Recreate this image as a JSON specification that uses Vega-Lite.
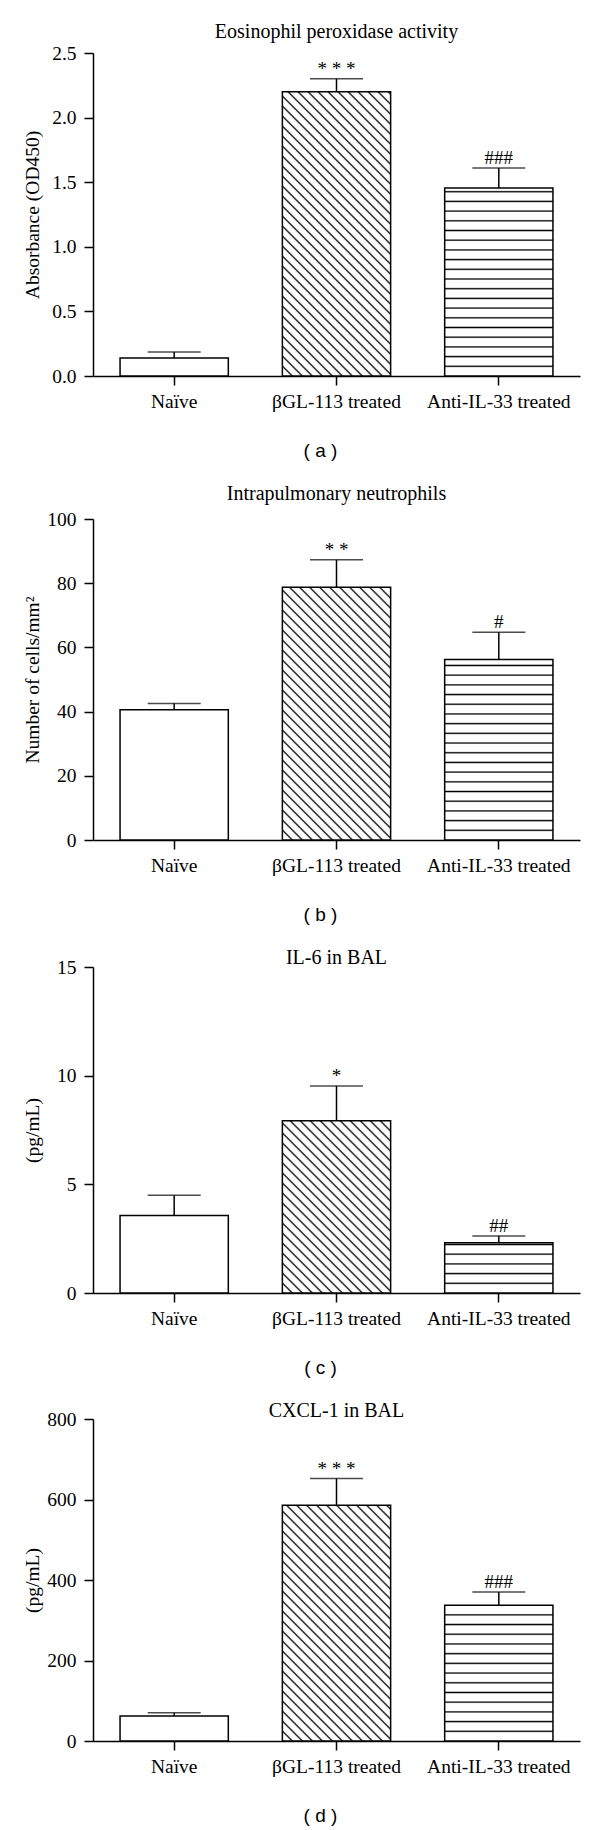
{
"$schema": "https://vega.github.io/schema/vega-lite/v6.json",
"background": "white",
"padding": {"left": 22, "top": 22, "right": 5, "bottom": 0},
"spacing": 23,
"data": {"values": [
{"panel": "a", "group": "Naïve", "value": 0.14, "upper": 0.186, "sig": ""},
{"panel": "a", "group": "βGL-113 treated", "value": 2.20, "upper": 2.30, "sig": "* * *"},
{"panel": "a", "group": "Anti-IL-33 treated", "value": 1.455, "upper": 1.61, "sig": "###"},
{"panel": "b", "group": "Naïve", "value": 40.6, "upper": 42.5, "sig": ""},
{"panel": "b", "group": "βGL-113 treated", "value": 78.7, "upper": 87.3, "sig": "* *"},
{"panel": "b", "group": "Anti-IL-33 treated", "value": 56.2, "upper": 64.7, "sig": "#"},
{"panel": "c", "group": "Naïve", "value": 3.57, "upper": 4.5, "sig": ""},
{"panel": "c", "group": "βGL-113 treated", "value": 7.93, "upper": 9.53, "sig": "*"},
{"panel": "c", "group": "Anti-IL-33 treated", "value": 2.31, "upper": 2.62, "sig": "##"},
{"panel": "d", "group": "Naïve", "value": 62, "upper": 70, "sig": ""},
{"panel": "d", "group": "βGL-113 treated", "value": 586, "upper": 652, "sig": "* * *"},
{"panel": "d", "group": "Anti-IL-33 treated", "value": 337, "upper": 370, "sig": "###"}
]},
"vconcat": [
{
"title": {"text": "Eosinophil peroxidase activity", "offset": 1},
"width": 487, "height": 323,
"transform": [{"filter": "datum.panel === 'a'"}],
"encoding": {"x": {"field": "group", "type": "nominal", "sort": ["Naïve", "βGL-113 treated", "Anti-IL-33 treated"], "scale": {"paddingInner": 0.333, "paddingOuter": 0.1667}, "axis": {"title": "( a )"}}},
"layer": [
{"mark": {"type": "bar", "stroke": "black", "strokeWidth": 1.5},
 "encoding": {
  "y": {"field": "value", "type": "quantitative", "title": "Absorbance (OD450)", "scale": {"domain": [0, 2.5], "nice": false}, "axis": {"values": [0, 0.5, 1, 1.5, 2, 2.5], "format": ".1f"}},
  "fill": {"condition": [
   {"test": "datum.group === 'βGL-113 treated'", "value": {"gradient": "linear", "x1": 0, "y1": 1, "x2": 0.468, "y2": -0.229, "stops": [{"offset":0.0205,"color":"#fff"},{"offset":0.025,"color":"#000"},{"offset":0.0295,"color":"#fff"},{"offset":0.0455,"color":"#fff"},{"offset":0.05,"color":"#000"},{"offset":0.0545,"color":"#fff"},{"offset":0.0705,"color":"#fff"},{"offset":0.075,"color":"#000"},{"offset":0.0795,"color":"#fff"},{"offset":0.0955,"color":"#fff"},{"offset":0.1,"color":"#000"},{"offset":0.1045,"color":"#fff"},{"offset":0.1205,"color":"#fff"},{"offset":0.125,"color":"#000"},{"offset":0.1295,"color":"#fff"},{"offset":0.1455,"color":"#fff"},{"offset":0.15,"color":"#000"},{"offset":0.1545,"color":"#fff"},{"offset":0.1705,"color":"#fff"},{"offset":0.175,"color":"#000"},{"offset":0.1795,"color":"#fff"},{"offset":0.1955,"color":"#fff"},{"offset":0.2,"color":"#000"},{"offset":0.2045,"color":"#fff"},{"offset":0.2205,"color":"#fff"},{"offset":0.225,"color":"#000"},{"offset":0.2295,"color":"#fff"},{"offset":0.2455,"color":"#fff"},{"offset":0.25,"color":"#000"},{"offset":0.2545,"color":"#fff"},{"offset":0.2705,"color":"#fff"},{"offset":0.275,"color":"#000"},{"offset":0.2795,"color":"#fff"},{"offset":0.2955,"color":"#fff"},{"offset":0.3,"color":"#000"},{"offset":0.3045,"color":"#fff"},{"offset":0.3205,"color":"#fff"},{"offset":0.325,"color":"#000"},{"offset":0.3295,"color":"#fff"},{"offset":0.3455,"color":"#fff"},{"offset":0.35,"color":"#000"},{"offset":0.3545,"color":"#fff"},{"offset":0.3705,"color":"#fff"},{"offset":0.375,"color":"#000"},{"offset":0.3795,"color":"#fff"},{"offset":0.3955,"color":"#fff"},{"offset":0.4,"color":"#000"},{"offset":0.4045,"color":"#fff"},{"offset":0.4205,"color":"#fff"},{"offset":0.425,"color":"#000"},{"offset":0.4295,"color":"#fff"},{"offset":0.4455,"color":"#fff"},{"offset":0.45,"color":"#000"},{"offset":0.4545,"color":"#fff"},{"offset":0.4705,"color":"#fff"},{"offset":0.475,"color":"#000"},{"offset":0.4795,"color":"#fff"},{"offset":0.4955,"color":"#fff"},{"offset":0.5,"color":"#000"},{"offset":0.5045,"color":"#fff"},{"offset":0.5205,"color":"#fff"},{"offset":0.525,"color":"#000"},{"offset":0.5295,"color":"#fff"},{"offset":0.5455,"color":"#fff"},{"offset":0.55,"color":"#000"},{"offset":0.5545,"color":"#fff"},{"offset":0.5705,"color":"#fff"},{"offset":0.575,"color":"#000"},{"offset":0.5795,"color":"#fff"},{"offset":0.5955,"color":"#fff"},{"offset":0.6,"color":"#000"},{"offset":0.6045,"color":"#fff"},{"offset":0.6205,"color":"#fff"},{"offset":0.625,"color":"#000"},{"offset":0.6295,"color":"#fff"},{"offset":0.6455,"color":"#fff"},{"offset":0.65,"color":"#000"},{"offset":0.6545,"color":"#fff"},{"offset":0.6705,"color":"#fff"},{"offset":0.675,"color":"#000"},{"offset":0.6795,"color":"#fff"},{"offset":0.6955,"color":"#fff"},{"offset":0.7,"color":"#000"},{"offset":0.7045,"color":"#fff"},{"offset":0.7205,"color":"#fff"},{"offset":0.725,"color":"#000"},{"offset":0.7295,"color":"#fff"},{"offset":0.7455,"color":"#fff"},{"offset":0.75,"color":"#000"},{"offset":0.7545,"color":"#fff"},{"offset":0.7705,"color":"#fff"},{"offset":0.775,"color":"#000"},{"offset":0.7795,"color":"#fff"},{"offset":0.7955,"color":"#fff"},{"offset":0.8,"color":"#000"},{"offset":0.8045,"color":"#fff"},{"offset":0.8205,"color":"#fff"},{"offset":0.825,"color":"#000"},{"offset":0.8295,"color":"#fff"},{"offset":0.8455,"color":"#fff"},{"offset":0.85,"color":"#000"},{"offset":0.8545,"color":"#fff"},{"offset":0.8705,"color":"#fff"},{"offset":0.875,"color":"#000"},{"offset":0.8795,"color":"#fff"},{"offset":0.8955,"color":"#fff"},{"offset":0.9,"color":"#000"},{"offset":0.9045,"color":"#fff"},{"offset":0.9205,"color":"#fff"},{"offset":0.925,"color":"#000"},{"offset":0.9295,"color":"#fff"},{"offset":0.9455,"color":"#fff"},{"offset":0.95,"color":"#000"},{"offset":0.9545,"color":"#fff"},{"offset":0.9705,"color":"#fff"},{"offset":0.975,"color":"#000"},{"offset":0.9795,"color":"#fff"}]}},
   {"test": "datum.group === 'Anti-IL-33 treated'", "value": {"gradient": "linear", "x1": 0, "y1": 1, "x2": 0, "y2": -0.032, "stops": [{"offset":0.043,"color":"#fff"},{"offset":0.05,"color":"#000"},{"offset":0.057,"color":"#fff"},{"offset":0.093,"color":"#fff"},{"offset":0.1,"color":"#000"},{"offset":0.107,"color":"#fff"},{"offset":0.143,"color":"#fff"},{"offset":0.15,"color":"#000"},{"offset":0.157,"color":"#fff"},{"offset":0.193,"color":"#fff"},{"offset":0.2,"color":"#000"},{"offset":0.207,"color":"#fff"},{"offset":0.243,"color":"#fff"},{"offset":0.25,"color":"#000"},{"offset":0.257,"color":"#fff"},{"offset":0.293,"color":"#fff"},{"offset":0.3,"color":"#000"},{"offset":0.307,"color":"#fff"},{"offset":0.343,"color":"#fff"},{"offset":0.35,"color":"#000"},{"offset":0.357,"color":"#fff"},{"offset":0.393,"color":"#fff"},{"offset":0.4,"color":"#000"},{"offset":0.407,"color":"#fff"},{"offset":0.443,"color":"#fff"},{"offset":0.45,"color":"#000"},{"offset":0.457,"color":"#fff"},{"offset":0.493,"color":"#fff"},{"offset":0.5,"color":"#000"},{"offset":0.507,"color":"#fff"},{"offset":0.543,"color":"#fff"},{"offset":0.55,"color":"#000"},{"offset":0.557,"color":"#fff"},{"offset":0.593,"color":"#fff"},{"offset":0.6,"color":"#000"},{"offset":0.607,"color":"#fff"},{"offset":0.643,"color":"#fff"},{"offset":0.65,"color":"#000"},{"offset":0.657,"color":"#fff"},{"offset":0.693,"color":"#fff"},{"offset":0.7,"color":"#000"},{"offset":0.707,"color":"#fff"},{"offset":0.743,"color":"#fff"},{"offset":0.75,"color":"#000"},{"offset":0.757,"color":"#fff"},{"offset":0.793,"color":"#fff"},{"offset":0.8,"color":"#000"},{"offset":0.807,"color":"#fff"},{"offset":0.843,"color":"#fff"},{"offset":0.85,"color":"#000"},{"offset":0.857,"color":"#fff"},{"offset":0.893,"color":"#fff"},{"offset":0.9,"color":"#000"},{"offset":0.907,"color":"#fff"},{"offset":0.943,"color":"#fff"},{"offset":0.95,"color":"#000"},{"offset":0.957,"color":"#fff"}]}}
  ], "value": "white"}
 }},
{"mark": {"type": "rule", "strokeWidth": 1.5, "color": "black"}, "encoding": {"y": {"field": "value", "type": "quantitative", "title": "Absorbance (OD450)"}, "y2": {"field": "upper"}}},
{"mark": {"type": "tick", "size": 53, "thickness": 1.5, "color": "black"}, "encoding": {"y": {"field": "upper", "type": "quantitative", "title": "Absorbance (OD450)"}}},
{"mark": {"type": "text", "dy": -4, "baseline": "alphabetic", "fontSize": 19, "font": "Liberation Serif", "color": "black"}, "encoding": {"y": {"field": "upper", "type": "quantitative", "title": "Absorbance (OD450)"}, "text": {"field": "sig"}}}
]
},
{
"title": {"text": "Intrapulmonary neutrophils", "offset": 5},
"width": 487, "height": 321,
"transform": [{"filter": "datum.panel === 'b'"}],
"encoding": {"x": {"field": "group", "type": "nominal", "sort": ["Naïve", "βGL-113 treated", "Anti-IL-33 treated"], "scale": {"paddingInner": 0.333, "paddingOuter": 0.1667}, "axis": {"title": "( b )"}}},
"layer": [
{"mark": {"type": "bar", "stroke": "black", "strokeWidth": 1.5},
 "encoding": {
  "y": {"field": "value", "type": "quantitative", "title": "Number of cells/mm²", "scale": {"domain": [0, 100], "nice": false}, "axis": {"values": [0, 20, 40, 60, 80, 100]}},
  "fill": {"condition": [
   {"test": "datum.group === 'βGL-113 treated'", "value": {"gradient": "linear", "x1": 0, "y1": 1, "x2": 0.573, "y2": -0.338, "stops": [{"offset":0.0205,"color":"#fff"},{"offset":0.025,"color":"#000"},{"offset":0.0295,"color":"#fff"},{"offset":0.0455,"color":"#fff"},{"offset":0.05,"color":"#000"},{"offset":0.0545,"color":"#fff"},{"offset":0.0705,"color":"#fff"},{"offset":0.075,"color":"#000"},{"offset":0.0795,"color":"#fff"},{"offset":0.0955,"color":"#fff"},{"offset":0.1,"color":"#000"},{"offset":0.1045,"color":"#fff"},{"offset":0.1205,"color":"#fff"},{"offset":0.125,"color":"#000"},{"offset":0.1295,"color":"#fff"},{"offset":0.1455,"color":"#fff"},{"offset":0.15,"color":"#000"},{"offset":0.1545,"color":"#fff"},{"offset":0.1705,"color":"#fff"},{"offset":0.175,"color":"#000"},{"offset":0.1795,"color":"#fff"},{"offset":0.1955,"color":"#fff"},{"offset":0.2,"color":"#000"},{"offset":0.2045,"color":"#fff"},{"offset":0.2205,"color":"#fff"},{"offset":0.225,"color":"#000"},{"offset":0.2295,"color":"#fff"},{"offset":0.2455,"color":"#fff"},{"offset":0.25,"color":"#000"},{"offset":0.2545,"color":"#fff"},{"offset":0.2705,"color":"#fff"},{"offset":0.275,"color":"#000"},{"offset":0.2795,"color":"#fff"},{"offset":0.2955,"color":"#fff"},{"offset":0.3,"color":"#000"},{"offset":0.3045,"color":"#fff"},{"offset":0.3205,"color":"#fff"},{"offset":0.325,"color":"#000"},{"offset":0.3295,"color":"#fff"},{"offset":0.3455,"color":"#fff"},{"offset":0.35,"color":"#000"},{"offset":0.3545,"color":"#fff"},{"offset":0.3705,"color":"#fff"},{"offset":0.375,"color":"#000"},{"offset":0.3795,"color":"#fff"},{"offset":0.3955,"color":"#fff"},{"offset":0.4,"color":"#000"},{"offset":0.4045,"color":"#fff"},{"offset":0.4205,"color":"#fff"},{"offset":0.425,"color":"#000"},{"offset":0.4295,"color":"#fff"},{"offset":0.4455,"color":"#fff"},{"offset":0.45,"color":"#000"},{"offset":0.4545,"color":"#fff"},{"offset":0.4705,"color":"#fff"},{"offset":0.475,"color":"#000"},{"offset":0.4795,"color":"#fff"},{"offset":0.4955,"color":"#fff"},{"offset":0.5,"color":"#000"},{"offset":0.5045,"color":"#fff"},{"offset":0.5205,"color":"#fff"},{"offset":0.525,"color":"#000"},{"offset":0.5295,"color":"#fff"},{"offset":0.5455,"color":"#fff"},{"offset":0.55,"color":"#000"},{"offset":0.5545,"color":"#fff"},{"offset":0.5705,"color":"#fff"},{"offset":0.575,"color":"#000"},{"offset":0.5795,"color":"#fff"},{"offset":0.5955,"color":"#fff"},{"offset":0.6,"color":"#000"},{"offset":0.6045,"color":"#fff"},{"offset":0.6205,"color":"#fff"},{"offset":0.625,"color":"#000"},{"offset":0.6295,"color":"#fff"},{"offset":0.6455,"color":"#fff"},{"offset":0.65,"color":"#000"},{"offset":0.6545,"color":"#fff"},{"offset":0.6705,"color":"#fff"},{"offset":0.675,"color":"#000"},{"offset":0.6795,"color":"#fff"},{"offset":0.6955,"color":"#fff"},{"offset":0.7,"color":"#000"},{"offset":0.7045,"color":"#fff"},{"offset":0.7205,"color":"#fff"},{"offset":0.725,"color":"#000"},{"offset":0.7295,"color":"#fff"},{"offset":0.7455,"color":"#fff"},{"offset":0.75,"color":"#000"},{"offset":0.7545,"color":"#fff"},{"offset":0.7705,"color":"#fff"},{"offset":0.775,"color":"#000"},{"offset":0.7795,"color":"#fff"},{"offset":0.7955,"color":"#fff"},{"offset":0.8,"color":"#000"},{"offset":0.8045,"color":"#fff"},{"offset":0.8205,"color":"#fff"},{"offset":0.825,"color":"#000"},{"offset":0.8295,"color":"#fff"},{"offset":0.8455,"color":"#fff"},{"offset":0.85,"color":"#000"},{"offset":0.8545,"color":"#fff"},{"offset":0.8705,"color":"#fff"},{"offset":0.875,"color":"#000"},{"offset":0.8795,"color":"#fff"},{"offset":0.8955,"color":"#fff"},{"offset":0.9,"color":"#000"},{"offset":0.9045,"color":"#fff"},{"offset":0.9205,"color":"#fff"},{"offset":0.925,"color":"#000"},{"offset":0.9295,"color":"#fff"},{"offset":0.9455,"color":"#fff"},{"offset":0.95,"color":"#000"},{"offset":0.9545,"color":"#fff"},{"offset":0.9705,"color":"#fff"},{"offset":0.975,"color":"#000"},{"offset":0.9795,"color":"#fff"}]}},
   {"test": "datum.group === 'Anti-IL-33 treated'", "value": {"gradient": "linear", "x1": 0, "y1": 1, "x2": 0, "y2": -0.075, "stops": [{"offset":0.043,"color":"#fff"},{"offset":0.05,"color":"#000"},{"offset":0.057,"color":"#fff"},{"offset":0.093,"color":"#fff"},{"offset":0.1,"color":"#000"},{"offset":0.107,"color":"#fff"},{"offset":0.143,"color":"#fff"},{"offset":0.15,"color":"#000"},{"offset":0.157,"color":"#fff"},{"offset":0.193,"color":"#fff"},{"offset":0.2,"color":"#000"},{"offset":0.207,"color":"#fff"},{"offset":0.243,"color":"#fff"},{"offset":0.25,"color":"#000"},{"offset":0.257,"color":"#fff"},{"offset":0.293,"color":"#fff"},{"offset":0.3,"color":"#000"},{"offset":0.307,"color":"#fff"},{"offset":0.343,"color":"#fff"},{"offset":0.35,"color":"#000"},{"offset":0.357,"color":"#fff"},{"offset":0.393,"color":"#fff"},{"offset":0.4,"color":"#000"},{"offset":0.407,"color":"#fff"},{"offset":0.443,"color":"#fff"},{"offset":0.45,"color":"#000"},{"offset":0.457,"color":"#fff"},{"offset":0.493,"color":"#fff"},{"offset":0.5,"color":"#000"},{"offset":0.507,"color":"#fff"},{"offset":0.543,"color":"#fff"},{"offset":0.55,"color":"#000"},{"offset":0.557,"color":"#fff"},{"offset":0.593,"color":"#fff"},{"offset":0.6,"color":"#000"},{"offset":0.607,"color":"#fff"},{"offset":0.643,"color":"#fff"},{"offset":0.65,"color":"#000"},{"offset":0.657,"color":"#fff"},{"offset":0.693,"color":"#fff"},{"offset":0.7,"color":"#000"},{"offset":0.707,"color":"#fff"},{"offset":0.743,"color":"#fff"},{"offset":0.75,"color":"#000"},{"offset":0.757,"color":"#fff"},{"offset":0.793,"color":"#fff"},{"offset":0.8,"color":"#000"},{"offset":0.807,"color":"#fff"},{"offset":0.843,"color":"#fff"},{"offset":0.85,"color":"#000"},{"offset":0.857,"color":"#fff"},{"offset":0.893,"color":"#fff"},{"offset":0.9,"color":"#000"},{"offset":0.907,"color":"#fff"},{"offset":0.943,"color":"#fff"},{"offset":0.95,"color":"#000"},{"offset":0.957,"color":"#fff"}]}}
  ], "value": "white"}
 }},
{"mark": {"type": "rule", "strokeWidth": 1.5, "color": "black"}, "encoding": {"y": {"field": "value", "type": "quantitative", "title": "Number of cells/mm²"}, "y2": {"field": "upper"}}},
{"mark": {"type": "tick", "size": 53, "thickness": 1.5, "color": "black"}, "encoding": {"y": {"field": "upper", "type": "quantitative", "title": "Number of cells/mm²"}}},
{"mark": {"type": "text", "dy": -4, "baseline": "alphabetic", "fontSize": 19, "font": "Liberation Serif", "color": "black"}, "encoding": {"y": {"field": "upper", "type": "quantitative", "title": "Number of cells/mm²"}, "text": {"field": "sig"}}}
]
},
{
"title": {"text": "IL-6 in BAL", "offset": -11},
"width": 487, "height": 326,
"transform": [{"filter": "datum.panel === 'c'"}],
"encoding": {"x": {"field": "group", "type": "nominal", "sort": ["Naïve", "βGL-113 treated", "Anti-IL-33 treated"], "scale": {"paddingInner": 0.333, "paddingOuter": 0.1667}, "axis": {"title": "( c )"}}},
"layer": [
{"mark": {"type": "bar", "stroke": "black", "strokeWidth": 1.5},
 "encoding": {
  "y": {"field": "value", "type": "quantitative", "title": "(pg/mL)", "scale": {"domain": [0, 15], "nice": false}, "axis": {"values": [0, 5, 10, 15]}},
  "fill": {"condition": [
   {"test": "datum.group === 'βGL-113 treated'", "value": {"gradient": "linear", "x1": 0, "y1": 1, "x2": 1.046, "y2": -0.665, "stops": [{"offset":0.0205,"color":"#fff"},{"offset":0.025,"color":"#000"},{"offset":0.0295,"color":"#fff"},{"offset":0.0455,"color":"#fff"},{"offset":0.05,"color":"#000"},{"offset":0.0545,"color":"#fff"},{"offset":0.0705,"color":"#fff"},{"offset":0.075,"color":"#000"},{"offset":0.0795,"color":"#fff"},{"offset":0.0955,"color":"#fff"},{"offset":0.1,"color":"#000"},{"offset":0.1045,"color":"#fff"},{"offset":0.1205,"color":"#fff"},{"offset":0.125,"color":"#000"},{"offset":0.1295,"color":"#fff"},{"offset":0.1455,"color":"#fff"},{"offset":0.15,"color":"#000"},{"offset":0.1545,"color":"#fff"},{"offset":0.1705,"color":"#fff"},{"offset":0.175,"color":"#000"},{"offset":0.1795,"color":"#fff"},{"offset":0.1955,"color":"#fff"},{"offset":0.2,"color":"#000"},{"offset":0.2045,"color":"#fff"},{"offset":0.2205,"color":"#fff"},{"offset":0.225,"color":"#000"},{"offset":0.2295,"color":"#fff"},{"offset":0.2455,"color":"#fff"},{"offset":0.25,"color":"#000"},{"offset":0.2545,"color":"#fff"},{"offset":0.2705,"color":"#fff"},{"offset":0.275,"color":"#000"},{"offset":0.2795,"color":"#fff"},{"offset":0.2955,"color":"#fff"},{"offset":0.3,"color":"#000"},{"offset":0.3045,"color":"#fff"},{"offset":0.3205,"color":"#fff"},{"offset":0.325,"color":"#000"},{"offset":0.3295,"color":"#fff"},{"offset":0.3455,"color":"#fff"},{"offset":0.35,"color":"#000"},{"offset":0.3545,"color":"#fff"},{"offset":0.3705,"color":"#fff"},{"offset":0.375,"color":"#000"},{"offset":0.3795,"color":"#fff"},{"offset":0.3955,"color":"#fff"},{"offset":0.4,"color":"#000"},{"offset":0.4045,"color":"#fff"},{"offset":0.4205,"color":"#fff"},{"offset":0.425,"color":"#000"},{"offset":0.4295,"color":"#fff"},{"offset":0.4455,"color":"#fff"},{"offset":0.45,"color":"#000"},{"offset":0.4545,"color":"#fff"},{"offset":0.4705,"color":"#fff"},{"offset":0.475,"color":"#000"},{"offset":0.4795,"color":"#fff"},{"offset":0.4955,"color":"#fff"},{"offset":0.5,"color":"#000"},{"offset":0.5045,"color":"#fff"},{"offset":0.5205,"color":"#fff"},{"offset":0.525,"color":"#000"},{"offset":0.5295,"color":"#fff"},{"offset":0.5455,"color":"#fff"},{"offset":0.55,"color":"#000"},{"offset":0.5545,"color":"#fff"},{"offset":0.5705,"color":"#fff"},{"offset":0.575,"color":"#000"},{"offset":0.5795,"color":"#fff"},{"offset":0.5955,"color":"#fff"},{"offset":0.6,"color":"#000"},{"offset":0.6045,"color":"#fff"},{"offset":0.6205,"color":"#fff"},{"offset":0.625,"color":"#000"},{"offset":0.6295,"color":"#fff"},{"offset":0.6455,"color":"#fff"},{"offset":0.65,"color":"#000"},{"offset":0.6545,"color":"#fff"},{"offset":0.6705,"color":"#fff"},{"offset":0.675,"color":"#000"},{"offset":0.6795,"color":"#fff"},{"offset":0.6955,"color":"#fff"},{"offset":0.7,"color":"#000"},{"offset":0.7045,"color":"#fff"},{"offset":0.7205,"color":"#fff"},{"offset":0.725,"color":"#000"},{"offset":0.7295,"color":"#fff"},{"offset":0.7455,"color":"#fff"},{"offset":0.75,"color":"#000"},{"offset":0.7545,"color":"#fff"},{"offset":0.7705,"color":"#fff"},{"offset":0.775,"color":"#000"},{"offset":0.7795,"color":"#fff"},{"offset":0.7955,"color":"#fff"},{"offset":0.8,"color":"#000"},{"offset":0.8045,"color":"#fff"},{"offset":0.8205,"color":"#fff"},{"offset":0.825,"color":"#000"},{"offset":0.8295,"color":"#fff"},{"offset":0.8455,"color":"#fff"},{"offset":0.85,"color":"#000"},{"offset":0.8545,"color":"#fff"},{"offset":0.8705,"color":"#fff"},{"offset":0.875,"color":"#000"},{"offset":0.8795,"color":"#fff"},{"offset":0.8955,"color":"#fff"},{"offset":0.9,"color":"#000"},{"offset":0.9045,"color":"#fff"},{"offset":0.9205,"color":"#fff"},{"offset":0.925,"color":"#000"},{"offset":0.9295,"color":"#fff"},{"offset":0.9455,"color":"#fff"},{"offset":0.95,"color":"#000"},{"offset":0.9545,"color":"#fff"},{"offset":0.9705,"color":"#fff"},{"offset":0.975,"color":"#000"},{"offset":0.9795,"color":"#fff"}]}},
   {"test": "datum.group === 'Anti-IL-33 treated'", "value": {"gradient": "linear", "x1": 0, "y1": 1, "x2": 0, "y2": -2.865, "stops": [{"offset":0.043,"color":"#fff"},{"offset":0.05,"color":"#000"},{"offset":0.057,"color":"#fff"},{"offset":0.093,"color":"#fff"},{"offset":0.1,"color":"#000"},{"offset":0.107,"color":"#fff"},{"offset":0.143,"color":"#fff"},{"offset":0.15,"color":"#000"},{"offset":0.157,"color":"#fff"},{"offset":0.193,"color":"#fff"},{"offset":0.2,"color":"#000"},{"offset":0.207,"color":"#fff"},{"offset":0.243,"color":"#fff"},{"offset":0.25,"color":"#000"},{"offset":0.257,"color":"#fff"},{"offset":0.293,"color":"#fff"},{"offset":0.3,"color":"#000"},{"offset":0.307,"color":"#fff"}]}}
  ], "value": "white"}
 }},
{"mark": {"type": "rule", "strokeWidth": 1.5, "color": "black"}, "encoding": {"y": {"field": "value", "type": "quantitative", "title": "(pg/mL)"}, "y2": {"field": "upper"}}},
{"mark": {"type": "tick", "size": 53, "thickness": 1.5, "color": "black"}, "encoding": {"y": {"field": "upper", "type": "quantitative", "title": "(pg/mL)"}}},
{"mark": {"type": "text", "dy": -4, "baseline": "alphabetic", "fontSize": 19, "font": "Liberation Serif", "color": "black"}, "encoding": {"y": {"field": "upper", "type": "quantitative", "title": "(pg/mL)"}, "text": {"field": "sig"}}}
]
},
{
"title": {"text": "CXCL-1 in BAL", "offset": -12},
"width": 487, "height": 322,
"transform": [{"filter": "datum.panel === 'd'"}],
"encoding": {"x": {"field": "group", "type": "nominal", "sort": ["Naïve", "βGL-113 treated", "Anti-IL-33 treated"], "scale": {"paddingInner": 0.333, "paddingOuter": 0.1667}, "axis": {"title": "( d )"}}},
"layer": [
{"mark": {"type": "bar", "stroke": "black", "strokeWidth": 1.5},
 "encoding": {
  "y": {"field": "value", "type": "quantitative", "title": "(pg/mL)", "scale": {"domain": [0, 800], "nice": false}, "axis": {"values": [0, 200, 400, 600, 800]}},
  "fill": {"condition": [
   {"test": "datum.group === 'βGL-113 treated'", "value": {"gradient": "linear", "x1": 0, "y1": 1, "x2": 0.643, "y2": -0.401, "stops": [{"offset":0.0205,"color":"#fff"},{"offset":0.025,"color":"#000"},{"offset":0.0295,"color":"#fff"},{"offset":0.0455,"color":"#fff"},{"offset":0.05,"color":"#000"},{"offset":0.0545,"color":"#fff"},{"offset":0.0705,"color":"#fff"},{"offset":0.075,"color":"#000"},{"offset":0.0795,"color":"#fff"},{"offset":0.0955,"color":"#fff"},{"offset":0.1,"color":"#000"},{"offset":0.1045,"color":"#fff"},{"offset":0.1205,"color":"#fff"},{"offset":0.125,"color":"#000"},{"offset":0.1295,"color":"#fff"},{"offset":0.1455,"color":"#fff"},{"offset":0.15,"color":"#000"},{"offset":0.1545,"color":"#fff"},{"offset":0.1705,"color":"#fff"},{"offset":0.175,"color":"#000"},{"offset":0.1795,"color":"#fff"},{"offset":0.1955,"color":"#fff"},{"offset":0.2,"color":"#000"},{"offset":0.2045,"color":"#fff"},{"offset":0.2205,"color":"#fff"},{"offset":0.225,"color":"#000"},{"offset":0.2295,"color":"#fff"},{"offset":0.2455,"color":"#fff"},{"offset":0.25,"color":"#000"},{"offset":0.2545,"color":"#fff"},{"offset":0.2705,"color":"#fff"},{"offset":0.275,"color":"#000"},{"offset":0.2795,"color":"#fff"},{"offset":0.2955,"color":"#fff"},{"offset":0.3,"color":"#000"},{"offset":0.3045,"color":"#fff"},{"offset":0.3205,"color":"#fff"},{"offset":0.325,"color":"#000"},{"offset":0.3295,"color":"#fff"},{"offset":0.3455,"color":"#fff"},{"offset":0.35,"color":"#000"},{"offset":0.3545,"color":"#fff"},{"offset":0.3705,"color":"#fff"},{"offset":0.375,"color":"#000"},{"offset":0.3795,"color":"#fff"},{"offset":0.3955,"color":"#fff"},{"offset":0.4,"color":"#000"},{"offset":0.4045,"color":"#fff"},{"offset":0.4205,"color":"#fff"},{"offset":0.425,"color":"#000"},{"offset":0.4295,"color":"#fff"},{"offset":0.4455,"color":"#fff"},{"offset":0.45,"color":"#000"},{"offset":0.4545,"color":"#fff"},{"offset":0.4705,"color":"#fff"},{"offset":0.475,"color":"#000"},{"offset":0.4795,"color":"#fff"},{"offset":0.4955,"color":"#fff"},{"offset":0.5,"color":"#000"},{"offset":0.5045,"color":"#fff"},{"offset":0.5205,"color":"#fff"},{"offset":0.525,"color":"#000"},{"offset":0.5295,"color":"#fff"},{"offset":0.5455,"color":"#fff"},{"offset":0.55,"color":"#000"},{"offset":0.5545,"color":"#fff"},{"offset":0.5705,"color":"#fff"},{"offset":0.575,"color":"#000"},{"offset":0.5795,"color":"#fff"},{"offset":0.5955,"color":"#fff"},{"offset":0.6,"color":"#000"},{"offset":0.6045,"color":"#fff"},{"offset":0.6205,"color":"#fff"},{"offset":0.625,"color":"#000"},{"offset":0.6295,"color":"#fff"},{"offset":0.6455,"color":"#fff"},{"offset":0.65,"color":"#000"},{"offset":0.6545,"color":"#fff"},{"offset":0.6705,"color":"#fff"},{"offset":0.675,"color":"#000"},{"offset":0.6795,"color":"#fff"},{"offset":0.6955,"color":"#fff"},{"offset":0.7,"color":"#000"},{"offset":0.7045,"color":"#fff"},{"offset":0.7205,"color":"#fff"},{"offset":0.725,"color":"#000"},{"offset":0.7295,"color":"#fff"},{"offset":0.7455,"color":"#fff"},{"offset":0.75,"color":"#000"},{"offset":0.7545,"color":"#fff"},{"offset":0.7705,"color":"#fff"},{"offset":0.775,"color":"#000"},{"offset":0.7795,"color":"#fff"},{"offset":0.7955,"color":"#fff"},{"offset":0.8,"color":"#000"},{"offset":0.8045,"color":"#fff"},{"offset":0.8205,"color":"#fff"},{"offset":0.825,"color":"#000"},{"offset":0.8295,"color":"#fff"},{"offset":0.8455,"color":"#fff"},{"offset":0.85,"color":"#000"},{"offset":0.8545,"color":"#fff"},{"offset":0.8705,"color":"#fff"},{"offset":0.875,"color":"#000"},{"offset":0.8795,"color":"#fff"},{"offset":0.8955,"color":"#fff"},{"offset":0.9,"color":"#000"},{"offset":0.9045,"color":"#fff"},{"offset":0.9205,"color":"#fff"},{"offset":0.925,"color":"#000"},{"offset":0.9295,"color":"#fff"},{"offset":0.9455,"color":"#fff"},{"offset":0.95,"color":"#000"},{"offset":0.9545,"color":"#fff"},{"offset":0.9705,"color":"#fff"},{"offset":0.975,"color":"#000"},{"offset":0.9795,"color":"#fff"}]}},
   {"test": "datum.group === 'Anti-IL-33 treated'", "value": {"gradient": "linear", "x1": 0, "y1": 1, "x2": 0, "y2": -0.431, "stops": [{"offset":0.043,"color":"#fff"},{"offset":0.05,"color":"#000"},{"offset":0.057,"color":"#fff"},{"offset":0.093,"color":"#fff"},{"offset":0.1,"color":"#000"},{"offset":0.107,"color":"#fff"},{"offset":0.143,"color":"#fff"},{"offset":0.15,"color":"#000"},{"offset":0.157,"color":"#fff"},{"offset":0.193,"color":"#fff"},{"offset":0.2,"color":"#000"},{"offset":0.207,"color":"#fff"},{"offset":0.243,"color":"#fff"},{"offset":0.25,"color":"#000"},{"offset":0.257,"color":"#fff"},{"offset":0.293,"color":"#fff"},{"offset":0.3,"color":"#000"},{"offset":0.307,"color":"#fff"},{"offset":0.343,"color":"#fff"},{"offset":0.35,"color":"#000"},{"offset":0.357,"color":"#fff"},{"offset":0.393,"color":"#fff"},{"offset":0.4,"color":"#000"},{"offset":0.407,"color":"#fff"},{"offset":0.443,"color":"#fff"},{"offset":0.45,"color":"#000"},{"offset":0.457,"color":"#fff"},{"offset":0.493,"color":"#fff"},{"offset":0.5,"color":"#000"},{"offset":0.507,"color":"#fff"},{"offset":0.543,"color":"#fff"},{"offset":0.55,"color":"#000"},{"offset":0.557,"color":"#fff"},{"offset":0.593,"color":"#fff"},{"offset":0.6,"color":"#000"},{"offset":0.607,"color":"#fff"},{"offset":0.643,"color":"#fff"},{"offset":0.65,"color":"#000"},{"offset":0.657,"color":"#fff"}]}}
  ], "value": "white"}
 }},
{"mark": {"type": "rule", "strokeWidth": 1.5, "color": "black"}, "encoding": {"y": {"field": "value", "type": "quantitative", "title": "(pg/mL)"}, "y2": {"field": "upper"}}},
{"mark": {"type": "tick", "size": 53, "thickness": 1.5, "color": "black"}, "encoding": {"y": {"field": "upper", "type": "quantitative", "title": "(pg/mL)"}}},
{"mark": {"type": "text", "dy": -4, "baseline": "alphabetic", "fontSize": 19, "font": "Liberation Serif", "color": "black"}, "encoding": {"y": {"field": "upper", "type": "quantitative", "title": "(pg/mL)"}, "text": {"field": "sig"}}}
]
}
],
"config": {
"view": {"stroke": null},
"font": "Liberation Serif",
"title": {"font": "Liberation Serif", "fontSize": 20, "fontWeight": "normal", "color": "black", "anchor": "middle"},
"axis": {"domainColor": "black", "domainWidth": 1.5, "tickColor": "black", "tickWidth": 1.5, "tickSize": 9, "labelFont": "Liberation Serif", "labelFontSize": 19.5, "labelColor": "black", "titleFont": "Liberation Serif", "titleFontSize": 19.5, "titleFontWeight": "normal", "titleColor": "black", "grid": false},
"axisX": {"labelAngle": 0, "labelPadding": 7, "titleFont": "Liberation Sans", "titleFontSize": 19, "titlePadding": 31, "titleX": 227, "bandPosition": 0.5},
"axisY": {"labelPadding": 8, "titleX": -61, "titleBaseline": "middle"}
}
}
